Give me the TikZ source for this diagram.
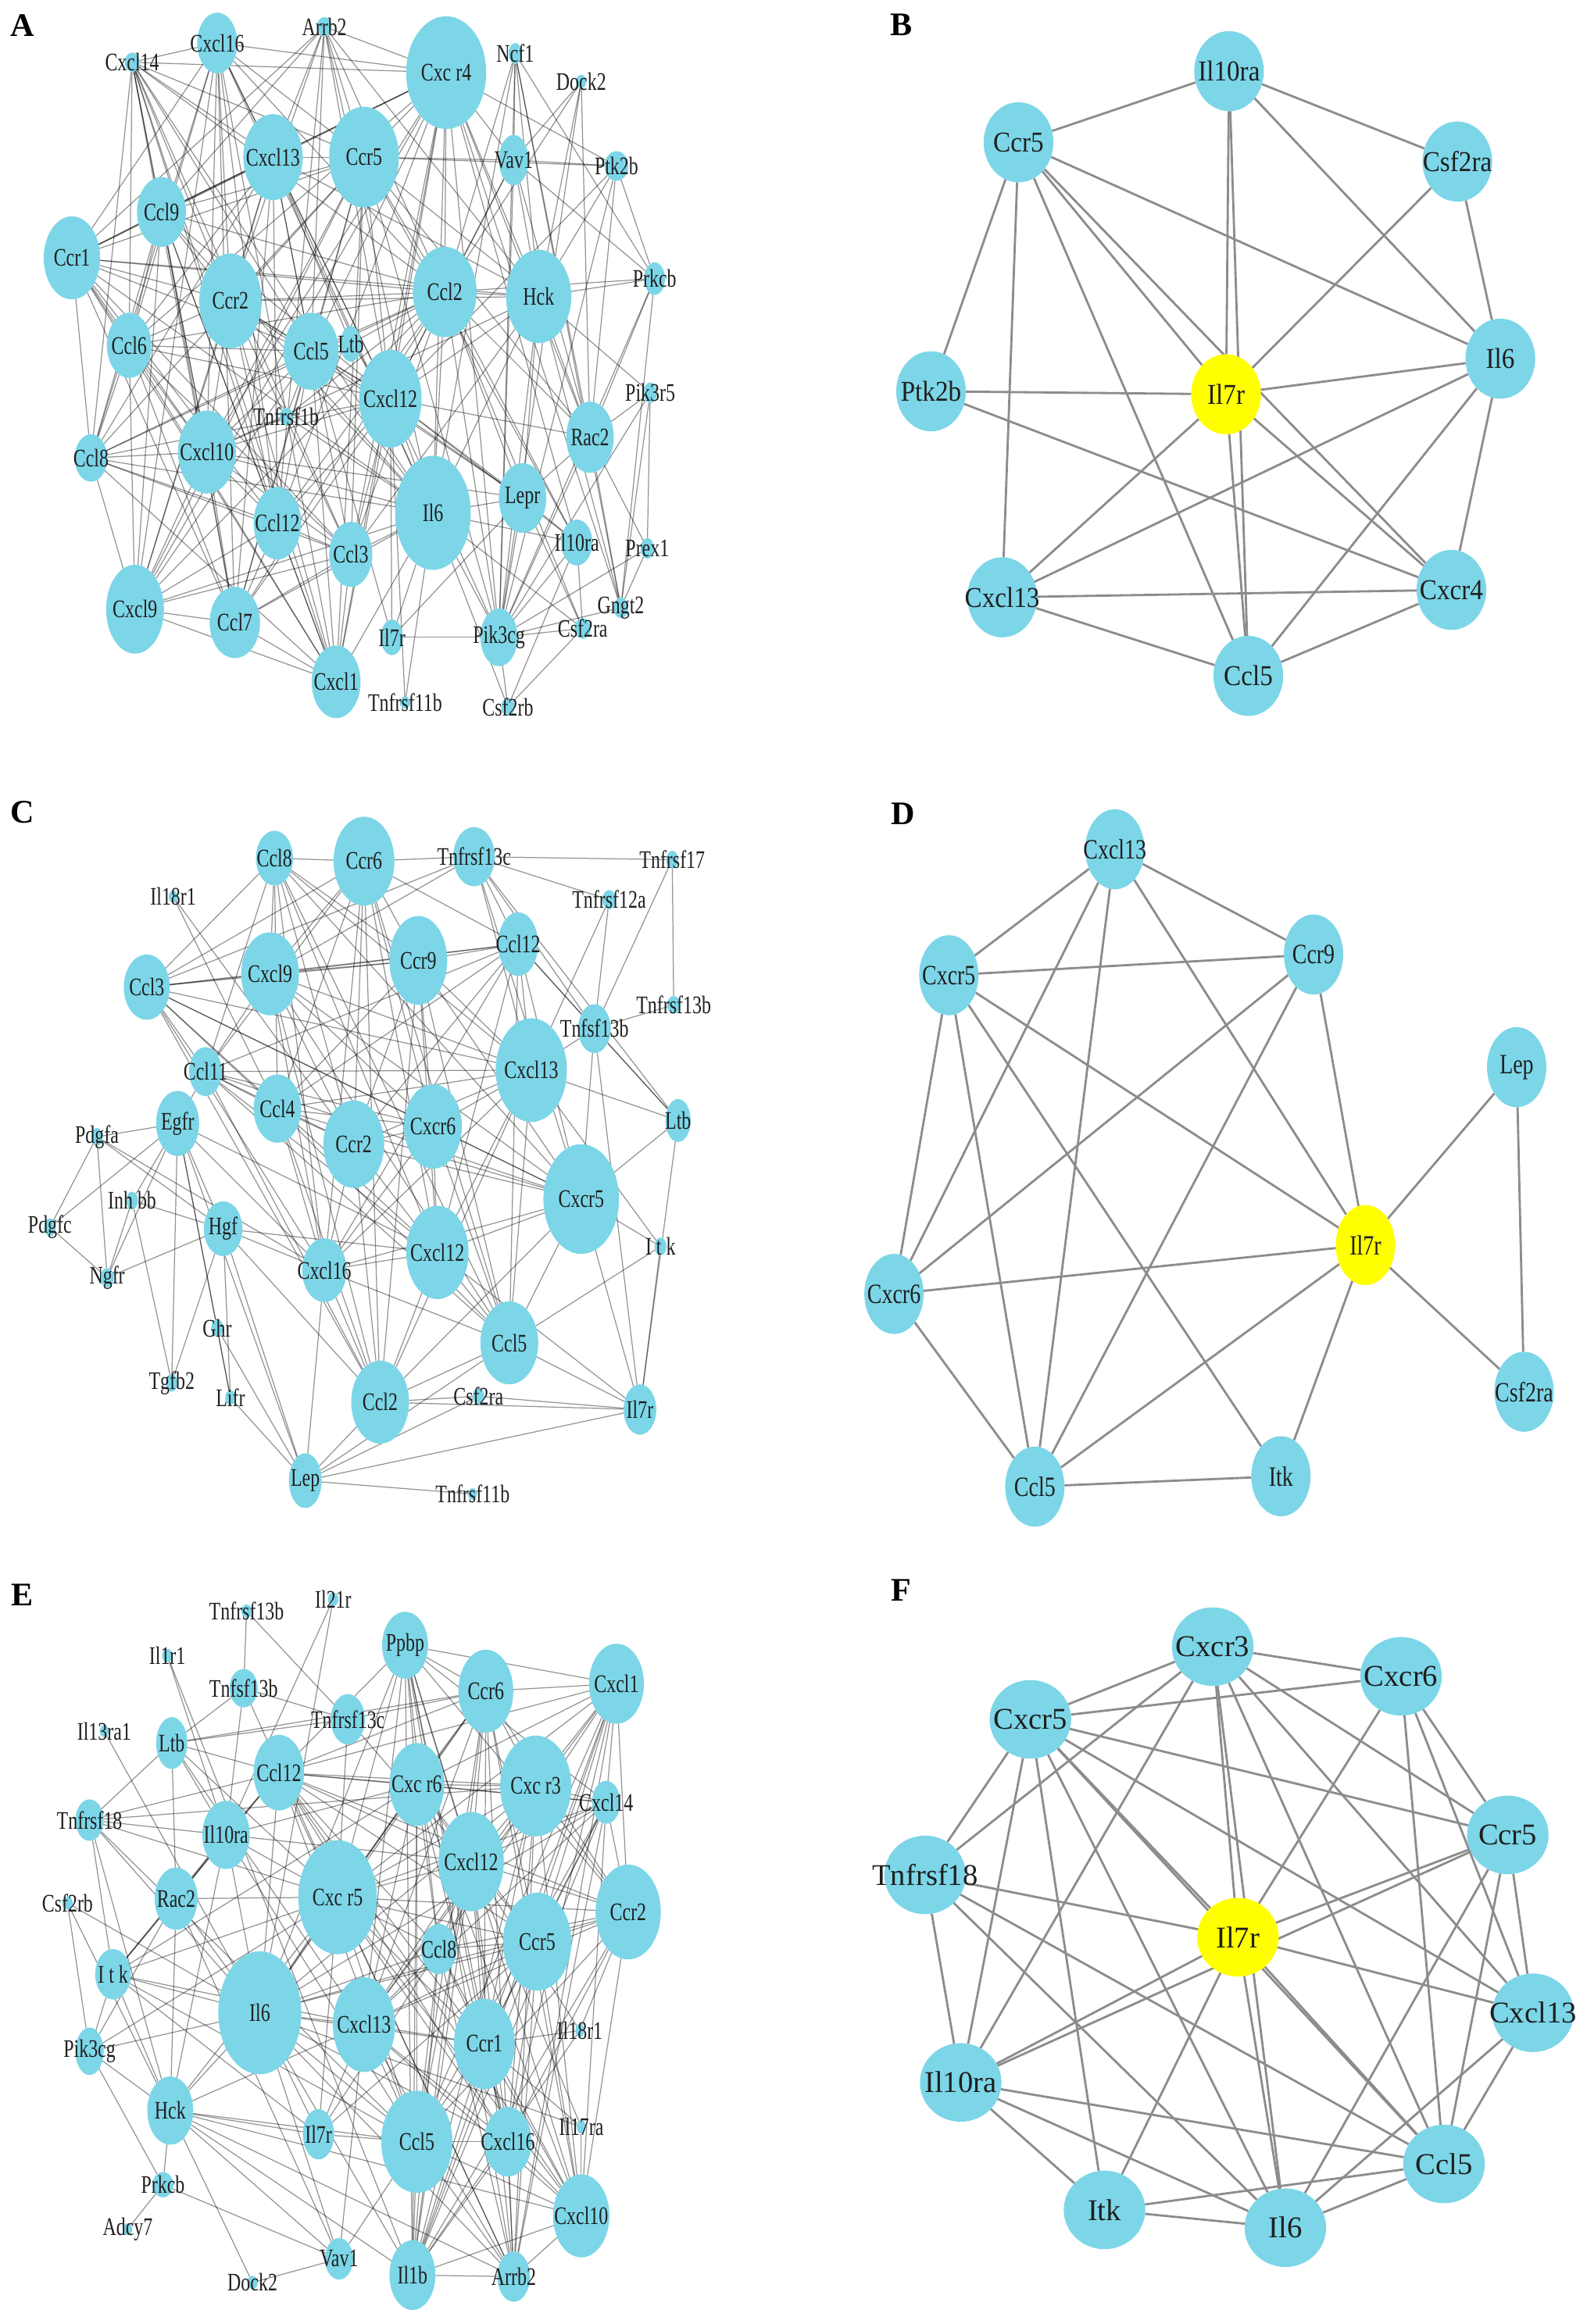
\documentclass[tikz,border=0pt]{standalone}
\usepackage{fontspec}
\setmainfont{Liberation Serif}
\newfontfamily\fnA[FakeStretch=0.74]{Liberation Serif}
\newfontfamily\fnB[FakeStretch=0.9]{Liberation Serif}
\newfontfamily\fnD[FakeStretch=0.78]{Liberation Serif}
\usetikzlibrary{shapes.geometric}
\pgfdeclarelayer{bg}
\pgfsetlayers{bg,main}
\definecolor{ncyan}{RGB}{124,214,232}
\definecolor{nyel}{RGB}{255,255,0}
\tikzset{
 gn/.style={ellipse, fill=ncyan, draw=none, inner sep=0pt, outer sep=0pt},
 hub/.style={fill=nyel},
 lb/.style={inner sep=0pt, text=black!88},
 eT/.style={draw=black, draw opacity=0.42, line width=0.35pt},
 eK/.style={draw=black!45, line width=0.8pt},
 plet/.style={font=\bfseries\fontsize{12}{12}\selectfont, inner sep=0pt},
}
\newcommand\gnode[7][]{%
  \node[gn,#1,minimum width=#5*0.01898cm,minimum height=#6*0.01898cm] (#2) at (#3,#4) {};
  \node[lb] (#2t) at (#2.center) {#7};}
\newcommand\clique[3]{%
  \foreach \pp [count=\ii] in #2 {%
    \foreach \qq [count=\jj] in #2 {%
      \pgfmathtruncatemacro\rr{mod(\ii*7+\jj*3,5)}%
      \ifnum\jj>\ii\relax \ifnum\rr>0\relax \draw[#3] (#1\pp) -- (#1\qq);\fi\fi
    }}}
\def\cliqA{Cxcl16,Cxcl14,Cxcr4,Cxcl13,Ccr5,Ccl9,Ccr1,Ccr2,Ccl2,Ccl6,Ccl5,Cxcl12,Ccl8,Cxcl10,Ccl12,Ccl3,Cxcl9,Ccl7,Cxcl1,Il6}
\def\cliqC{Ccl8,Ccr6,Ccr9,Cxcl9,Ccl3,Ccl12,Cxcl13,Ccl11,Ccl4,Ccr2,Cxcr6,Cxcr5,Cxcl16,Cxcl12,Ccl5,Ccl2}
\def\cliqE{Ppbp,Ccr6,Cxcl1,Ccl12,Cxcr6,Cxcr3,Cxcl14,Cxcl12,Cxcr5,Ccr2,Ccr5,Ccl8,Il6,Cxcl13,Ccr1,Ccl5,Cxcl16,Cxcl10,Il1b,Arrb2}
\begin{document}
\begin{tikzpicture}[x=0.01898cm,y=-0.01898cm]
\useasboundingbox (0,0) rectangle (1070,1568);
\begin{pgfonlayer}{bg}
\fill[white] (0,0) rectangle (1070,1568);
\end{pgfonlayer}

% panel letters
\node[plet] (labA) at (15,17) {A};
\node[plet] (labB) at (608,17) {B};
\node[plet] (labC) at (15,548) {C};
\node[plet] (labD) at (609,549) {D};
\node[plet] (labE) at (15,1076) {E};
\node[plet] (labF) at (608,1073) {F};

% ================= A =================
\begin{scope}[xscale=0.99, lb/.append style={font=\fnA\fontsize{9.2}{9.2}\selectfont}]
\gnode{aCxcl16}{148}{29}{27}{41}{Cxcl16}
\gnode{aArrb2}{221}{18}{10}{13}{Arrb2}
\gnode{aCxcr4}{304}{49}{54}{76}{Cxc r4}
\gnode{aNcf1}{351}{36}{9}{14}{Ncf1}
\gnode{aDock2}{396}{55}{7}{9}{Dock2}
\gnode{aCxcl14}{90}{42}{10}{13}{Cxcl14}
\gnode{aCxcl13}{186}{106}{40}{58}{Cxcl13}
\gnode{aCcr5}{248}{106}{47}{68}{Ccr5}
\gnode{aVav1}{350}{108}{20}{34}{Vav1}
\gnode{aPtk2b}{420}{112}{16}{20}{Ptk2b}
\gnode{aCcl9}{110}{143}{33}{47}{Ccl9}
\gnode{aCcr1}{49}{174}{38}{56}{Ccr1}
\gnode{aPrkcb}{446}{188}{14}{22}{Prkcb}
\gnode{aCcr2}{157}{203}{42}{64}{Ccr2}
\gnode{aCcl2}{303}{197}{43}{61}{Ccl2}
\gnode{aHck}{367}{200}{44}{63}{Hck}
\gnode{aCcl6}{88}{233}{30}{44}{Ccl6}
\gnode{aCcl5}{212}{237}{37}{52}{Ccl5}
\gnode{aLtb}{239}{232}{14}{24}{Ltb}
\gnode{aCxcl12}{266}{269}{42}{66}{Cxcl12}
\gnode{aTnfrsf1b}{195}{281}{9}{12}{Tnfrsf1b}
\gnode{aPik3r5}{443}{265}{9}{14}{Pik3r5}
\gnode{aCcl8}{62}{309}{22}{32}{Ccl8}
\gnode{aCxcl10}{141}{305}{39}{56}{Cxcl10}
\gnode{aRac2}{402}{295}{32}{48}{Rac2}
\gnode{aIl6}{295}{346}{51}{77}{Il6}
\gnode{aLepr}{356}{336}{32}{47}{Lepr}
\gnode{aCcl12}{189}{353}{32}{49}{Ccl12}
\gnode{aCcl3}{239}{374}{29}{44}{Ccl3}
\gnode{aIl10ra}{393}{366}{21}{31}{Il10ra}
\gnode{aPrex1}{441}{370}{9}{14}{Prex1}
\gnode{aCxcl9}{92}{411}{39}{60}{Cxcl9}
\gnode{aCcl7}{160}{420}{34}{48}{Ccl7}
\gnode{aGngt2}{423}{410}{10}{14}{Gngt2}
\gnode{aIl7r}{267}{430}{15}{24}{Il7r}
\gnode{aPik3cg}{340}{430}{25}{39}{Pik3cg}
\gnode{aCsf2ra}{397}{424}{11}{14}{Csf2ra}
\gnode{aCxcl1}{229}{460}{33}{49}{Cxcl1}
\gnode{aTnfrsf11b}{276}{474}{7}{8}{Tnfrsf11b}
\gnode{aCsf2rb}{346}{477}{9}{12}{Csf2rb}
\end{scope}
\begin{pgfonlayer}{bg}
\clique{a}{\cliqA}{eT}
\foreach \s/\t in {Arrb2/Cxcr4, Arrb2/Ccr5, Arrb2/Ccr2, Arrb2/Cxcl13, Arrb2/Ccl5, Arrb2/Cxcl12, Arrb2/Ccr1, Arrb2/Ccl2, Arrb2/Ccl9, Arrb2/Ccl12, Arrb2/Il6, Arrb2/Hck,
 Ncf1/Vav1, Ncf1/Hck, Ncf1/Rac2, Ncf1/Pik3cg, Ncf1/Prkcb, Ncf1/Ccl2, Ncf1/Il6, Ncf1/Gngt2,
 Dock2/Vav1, Dock2/Rac2, Dock2/Hck, Dock2/Pik3cg, Dock2/Ccl2,
 Ptk2b/Vav1, Ptk2b/Cxcr4, Ptk2b/Hck, Ptk2b/Pik3cg, Ptk2b/Ccr5, Ptk2b/Rac2, Ptk2b/Prkcb, Ptk2b/Cxcl12,
 Prkcb/Hck, Prkcb/Pik3cg, Prkcb/Rac2, Prkcb/Vav1, Prkcb/Gngt2, Prkcb/Ccl2,
 Pik3r5/Pik3cg, Pik3r5/Rac2, Pik3r5/Prex1, Pik3r5/Gngt2, Pik3r5/Hck,
 Prex1/Rac2, Prex1/Gngt2, Prex1/Pik3cg,
 Gngt2/Pik3cg, Gngt2/Rac2, Gngt2/Hck, Gngt2/Cxcr4,
 Csf2ra/Csf2rb, Csf2ra/Pik3cg, Csf2ra/Il6, Csf2ra/Lepr, Csf2ra/Il10ra, Csf2ra/Ccl2,
 Csf2rb/Pik3cg, Csf2rb/Il6, Csf2rb/Il10ra,
 Il7r/Pik3cg, Il7r/Il6, Il7r/Cxcl12, Il7r/Ccl5, Il7r/Lepr,
 Tnfrsf11b/Il6, Tnfrsf11b/Cxcl12,
 Tnfrsf1b/Il6, Tnfrsf1b/Ccl2, Tnfrsf1b/Cxcl10, Tnfrsf1b/Ccl5,
 Lepr/Il6, Lepr/Pik3cg, Lepr/Ccl2, Lepr/Cxcl12, Lepr/Il10ra, Lepr/Rac2, Lepr/Ccl5, Lepr/Hck, Lepr/Cxcl10, Lepr/Ccr2,
 Il10ra/Il6, Il10ra/Pik3cg, Il10ra/Ccl2, Il10ra/Ccr5, Il10ra/Cxcr4, Il10ra/Cxcl12,
 Ltb/Cxcl13, Ltb/Ccl2, Ltb/Cxcl12, Ltb/Ccl5,
 Hck/Vav1, Hck/Rac2, Hck/Pik3cg, Hck/Ccl2, Hck/Ccr5, Hck/Cxcr4, Hck/Ccr1, Hck/Cxcl12, Hck/Il6, Hck/Ccr2, Hck/Cxcl10, Hck/Cxcl13, Hck/Ccl3,
 Vav1/Rac2, Vav1/Pik3cg, Vav1/Ccr5, Vav1/Cxcr4, Vav1/Cxcl12, Vav1/Ccl2,
 Rac2/Pik3cg, Rac2/Cxcl12, Rac2/Ccl2, Rac2/Cxcr4, Rac2/Ccr5,
 Pik3cg/Il6, Pik3cg/Cxcl12, Pik3cg/Ccl2, Pik3cg/Cxcr4, Pik3cg/Ccr5}
 \draw[eT] (a\s) -- (a\t);
\end{pgfonlayer}

% ================= B =================
\begin{scope}[lb/.append style={font=\fnB\fontsize{10.5}{10.5}\selectfont}]
\gnode{bIl10ra}{829}{48}{47}{54}{Il10ra}
\gnode{bCcr5}{687}{96}{47}{54}{Ccr5}
\gnode{bCsf2ra}{983}{109}{47}{54}{Csf2ra}
\gnode{bPtk2b}{628}{264}{47}{54}{Ptk2b}
\gnode[hub]{bIl7r}{827}{266}{47}{54}{Il7r}
\gnode{bIl6}{1012}{242}{47}{54}{Il6}
\gnode{bCxcl13}{676}{403}{47}{54}{Cxcl13}
\gnode{bCxcr4}{979}{398}{47}{54}{Cxcr4}
\gnode{bCcl5}{842}{456}{47}{54}{Ccl5}
\end{scope}
\begin{pgfonlayer}{bg}
\foreach \s/\t in {Ccr5/Il10ra, Il10ra/Csf2ra, Il10ra/Il7r, Il10ra/Il6, Il10ra/Ccl5,
 Ccr5/Ptk2b, Ccr5/Cxcl13, Ccr5/Ccl5, Ccr5/Il7r, Ccr5/Cxcr4, Ccr5/Il6,
 Csf2ra/Il7r, Csf2ra/Il6, Ptk2b/Il7r, Ptk2b/Cxcr4,
 Il7r/Il6, Il7r/Cxcl13, Il7r/Ccl5, Il7r/Cxcr4,
 Il6/Cxcl13, Il6/Cxcr4, Il6/Ccl5, Cxcl13/Cxcr4, Cxcl13/Ccl5, Ccl5/Cxcr4}
 \draw[eK] (b\s) -- (b\t);
\end{pgfonlayer}

% ================= C =================
\begin{scope}[xscale=0.99, lb/.append style={font=\fnA\fontsize{9.2}{9.2}\selectfont}]
\gnode{cCcl8}{187}{579}{25}{37}{Ccl8}
\gnode{cCcr6}{248}{581}{41}{60}{Ccr6}
\gnode{cTnfrsf13c}{323}{578}{28}{40}{Tnfrsf13c}
\gnode{cTnfrsf17}{458}{580}{8}{12}{Tnfrsf17}
\gnode{cIl18r1}{118}{605}{6}{8}{Il18r1}
\gnode{cTnfrsf12a}{415}{607}{9}{13}{Tnfrsf12a}
\gnode{cCcl12}{353}{637}{27}{43}{Ccl12}
\gnode{cCcr9}{285}{648}{39}{60}{Ccr9}
\gnode{cCxcl9}{184}{657}{39}{56}{Cxcl9}
\gnode{cCcl3}{100}{666}{31}{44}{Ccl3}
\gnode{cTnfrsf13b}{459}{678}{9}{12}{Tnfrsf13b}
\gnode{cTnfsf13b}{405}{694}{22}{33}{Tnfsf13b}
\gnode{cCxcl13}{362}{722}{48}{70}{Cxcl13}
\gnode{cCcl11}{140}{723}{22}{33}{Ccl11}
\gnode{cCcl4}{189}{748}{32}{46}{Ccl4}
\gnode{cEgfr}{121}{758}{29}{44}{Egfr}
\gnode{cLtb}{462}{756}{17}{29}{Ltb}
\gnode{cCxcr6}{295}{760}{39}{57}{Cxcr6}
\gnode{cCcr2}{241}{772}{41}{59}{Ccr2}
\gnode{cPdgfa}{66}{767}{8}{12}{Pdgfa}
\gnode{cCxcr5}{396}{809}{51}{74}{Cxcr5}
\gnode{cInhbb}{90}{810}{8}{12}{Inh bb}
\gnode{cPdgfc}{34}{828}{8}{12}{Pdgfc}
\gnode{cHgf}{152}{829}{26}{37}{Hgf}
\gnode{cItk}{450}{841}{8}{12}{I t k}
\gnode{cCxcl16}{221}{857}{30}{43}{Cxcl16}
\gnode{cCxcl12}{298}{845}{42}{63}{Cxcl12}
\gnode{cNgfr}{73}{862}{9}{13}{Ngfr}
\gnode{cGhr}{148}{896}{8}{12}{Ghr}
\gnode{cCcl5}{347}{906}{39}{56}{Ccl5}
\gnode{cTgfb2}{117}{933}{8}{12}{Tgfb2}
\gnode{cLifr}{157}{943}{7}{10}{Lifr}
\gnode{cCcl2}{259}{946}{39}{56}{Ccl2}
\gnode{cCsf2ra}{326}{942}{8}{11}{Csf2ra}
\gnode{cIl7r}{436}{951}{22}{34}{Il7r}
\gnode{cLep}{208}{999}{22}{37}{Lep}
\gnode{cTnfrsf11b}{322}{1008}{6}{8}{Tnfrsf11b}
\end{scope}
\begin{pgfonlayer}{bg}
\clique{c}{\cliqC}{eT}
\foreach \s/\t in {Tnfrsf13c/Ccr6, Tnfrsf13c/Tnfrsf17, Tnfrsf13c/Tnfrsf12a, Tnfrsf13c/Tnfsf13b, Tnfrsf13c/Ccl12, Tnfrsf13c/Cxcl13, Tnfrsf13c/Ltb, Tnfrsf13c/Cxcr5, Tnfrsf13c/Cxcl9, Tnfrsf13c/Ccl3,
 Tnfrsf17/Tnfrsf13b, Tnfrsf17/Tnfsf13b, Tnfrsf12a/Tnfsf13b, Tnfrsf12a/Cxcl13, Tnfrsf13b/Tnfsf13b,
 Tnfsf13b/Ltb, Tnfsf13b/Cxcl13, Tnfsf13b/Il7r, Tnfsf13b/Ccl12, Tnfsf13b/Cxcr5,
 Ltb/Cxcl13, Ltb/Cxcr5, Ltb/Il7r, Ltb/Ccl12, Il18r1/Ccl4, Il18r1/Ccr2,
 Egfr/Pdgfa, Egfr/Pdgfc, Egfr/Inhbb, Egfr/Ngfr, Egfr/Hgf, Egfr/Tgfb2, Egfr/Ghr, Egfr/Lifr, Egfr/Lep, Egfr/Ccl11, Egfr/Cxcl12, Egfr/Cxcl16,
 Pdgfa/Pdgfc, Pdgfa/Ngfr, Pdgfa/Hgf, Pdgfa/Cxcl16, Pdgfc/Ngfr,
 Inhbb/Hgf, Inhbb/Ngfr, Inhbb/Tgfb2, Ngfr/Hgf,
 Hgf/Cxcl16, Hgf/Cxcl12, Hgf/Lep, Hgf/Tgfb2, Hgf/Ccl2, Hgf/Lifr,
 Ghr/Lifr, Ghr/Lep, Lep/Ccl2, Lep/Csf2ra, Lep/Il7r, Lep/Tnfrsf11b, Lep/Cxcl16, Lep/Lifr, Lep/Ccl5,
 Csf2ra/Il7r, Csf2ra/Ccl2, Il7r/Ccl5, Il7r/Cxcr5, Il7r/Itk, Il7r/Cxcl12, Il7r/Ccl2,
 Itk/Cxcr5, Itk/Ccl5, Itk/Cxcl13}
 \draw[eT] (c\s) -- (c\t);
\end{pgfonlayer}

% ================= D =================
\begin{scope}[lb/.append style={font=\fnD\fontsize{10.2}{10.2}\selectfont}]
\gnode{dCxcl13}{752}{573}{40}{54}{Cxcl13}
\gnode{dCxcr5}{640}{658}{40}{54}{Cxcr5}
\gnode{dCcr9}{886}{644}{40}{54}{Ccr9}
\gnode{dLep}{1023}{720}{40}{54}{Lep}
\gnode[hub]{dIl7r}{921}{840}{40}{54}{Il7r}
\gnode{dCxcr6}{603}{873}{40}{54}{Cxcr6}
\gnode{dCsf2ra}{1028}{939}{40}{54}{Csf2ra}
\gnode{dCcl5}{698}{1003}{40}{54}{Ccl5}
\gnode{dItk}{864}{996}{40}{54}{Itk}
\end{scope}
\begin{pgfonlayer}{bg}
\foreach \s/\t in {Cxcl13/Cxcr5, Cxcl13/Ccr9, Cxcl13/Cxcr6, Cxcl13/Ccl5, Cxcl13/Il7r,
 Cxcr5/Ccr9, Cxcr5/Il7r, Cxcr5/Itk, Cxcr5/Cxcr6, Cxcr5/Ccl5,
 Ccr9/Cxcr6, Ccr9/Ccl5, Ccr9/Il7r, Lep/Il7r, Lep/Csf2ra,
 Il7r/Cxcr6, Il7r/Ccl5, Il7r/Itk, Il7r/Csf2ra, Cxcr6/Ccl5, Ccl5/Itk}
 \draw[eK] (d\s) -- (d\t);
\end{pgfonlayer}

% ================= E =================
\begin{scope}[xscale=0.99, lb/.append style={font=\fnA\fontsize{9.2}{9.2}\selectfont}]
\gnode{eTnfrsf13b}{168}{1087}{7}{9}{Tnfrsf13b}
\gnode{eIl21r}{227}{1079}{7}{9}{Il21r}
\gnode{ePpbp}{276}{1110}{31}{45}{Ppbp}
\gnode{eIl1r1}{114}{1117}{7}{9}{Il1r1}
\gnode{eCcr6}{331}{1141}{37}{56}{Ccr6}
\gnode{eCxcl1}{420}{1136}{37}{54}{Cxcl1}
\gnode{eTnfsf13b}{166}{1139}{19}{26}{Tnfsf13b}
\gnode{eTnfrsf13c}{237}{1160}{23}{34}{Tnfrsf13c}
\gnode{eIl13ra1}{71}{1168}{6}{8}{Il13ra1}
\gnode{eLtb}{117}{1176}{21}{35}{Ltb}
\gnode{eCcl12}{190}{1196}{34}{51}{Ccl12}
\gnode{eCxcr6}{284}{1204}{37}{56}{Cxc r6}
\gnode{eCxcr3}{365}{1205}{48}{68}{Cxc r3}
\gnode{eCxcl14}{413}{1216}{19}{29}{Cxcl14}
\gnode{eTnfrsf18}{61}{1228}{19}{28}{Tnfrsf18}
\gnode{eIl10ra}{154}{1238}{32}{46}{Il10ra}
\gnode{eCxcl12}{321}{1256}{44}{67}{Cxcl12}
\gnode{eCsf2rb}{46}{1284}{7}{9}{Csf2rb}
\gnode{eRac2}{120}{1281}{29}{42}{Rac2}
\gnode{eCxcr5}{230}{1280}{53}{77}{Cxc r5}
\gnode{eCcr2}{428}{1290}{44}{64}{Ccr2}
\gnode{eCcr5}{366}{1310}{46}{66}{Ccr5}
\gnode{eCcl8}{299}{1315}{24}{34}{Ccl8}
\gnode{eItk}{77}{1332}{24}{34}{I t k}
\gnode{eIl6}{177}{1358}{56}{83}{Il6}
\gnode{eCxcl13}{248}{1366}{42}{64}{Cxcl13}
\gnode{eCcr1}{330}{1379}{41}{61}{Ccr1}
\gnode{eIl18r1}{395}{1370}{6}{9}{Il18r1}
\gnode{ePik3cg}{61}{1384}{19}{32}{Pik3cg}
\gnode{eHck}{116}{1424}{31}{46}{Hck}
\gnode{eIl7r}{217}{1440}{21}{34}{Il7r}
\gnode{eCcl5}{284}{1445}{48}{69}{Ccl5}
\gnode{eCxcl16}{346}{1445}{32}{47}{Cxcl16}
\gnode{eIl17ra}{396}{1435}{6}{9}{Il17ra}
\gnode{ePrkcb}{111}{1474}{14}{17}{Prkcb}
\gnode{eCxcl10}{396}{1495}{38}{56}{Cxcl10}
\gnode{eAdcy7}{87}{1504}{6}{8}{Adcy7}
\gnode{eVav1}{231}{1524}{19}{28}{Vav1}
\gnode{eDock2}{172}{1540}{7}{9}{Dock2}
\gnode{eIl1b}{281}{1535}{31}{47}{Il1b}
\gnode{eArrb2}{350}{1536}{22}{34}{Arrb2}
\end{scope}
\begin{pgfonlayer}{bg}
\clique{e}{\cliqE}{eT}
\foreach \s/\t in {Tnfrsf13b/Tnfsf13b, Tnfrsf13b/Tnfrsf13c, Il21r/Il10ra, Il21r/Il6, Il1r1/Il10ra, Il1r1/Il1b,
 Tnfsf13b/Ltb, Tnfsf13b/Tnfrsf13c, Tnfsf13b/Il10ra, Tnfsf13b/Cxcr5,
 Tnfrsf13c/Ltb, Tnfrsf13c/Ccr6, Tnfrsf13c/Cxcl12, Tnfrsf13c/Cxcr5, Il13ra1/Il6,
 Ltb/Ccr6, Ltb/Tnfrsf18, Ltb/Rac2, Ltb/Cxcr5, Ltb/Il10ra, Ltb/Ccl12, Ltb/Cxcl13,
 Tnfrsf18/Il10ra, Tnfrsf18/Ccl12, Tnfrsf18/Cxcr5, Tnfrsf18/Il6, Tnfrsf18/Itk, Tnfrsf18/Hck, Tnfrsf18/Ccl5, Tnfrsf18/Cxcr3,
 Il10ra/Il6, Il10ra/Itk, Il10ra/Hck, Il10ra/Cxcr5, Il10ra/Rac2, Il10ra/Cxcl12, Il10ra/Ccl12, Il10ra/Ccl5, Il10ra/Cxcr6,
 Csf2rb/Pik3cg, Csf2rb/Hck, Csf2rb/Il6,
 Rac2/Itk, Rac2/Pik3cg, Rac2/Hck, Rac2/Vav1, Rac2/Il6, Rac2/Cxcr5, Rac2/Ccl12,
 Itk/Pik3cg, Itk/Hck, Itk/Il6, Itk/Il7r, Itk/Ccl5, Itk/Cxcl13, Itk/Cxcr5, Itk/Ccl12, Itk/Cxcr6,
 Pik3cg/Hck, Pik3cg/Prkcb, Pik3cg/Il6, Pik3cg/Cxcr5,
 Hck/Prkcb, Hck/Il7r, Hck/Vav1, Hck/Il1b, Hck/Dock2, Hck/Il6, Hck/Cxcl10, Hck/Arrb2, Hck/Ccl5, Hck/Cxcl13, Hck/Cxcr5,
 Prkcb/Adcy7, Prkcb/Vav1, Vav1/Dock2, Vav1/Il6, Vav1/Cxcl13, Vav1/Ccl5,
 Il7r/Ccl5, Il7r/Il6, Il7r/Cxcl13, Il7r/Cxcr5, Il7r/Ccr5, Il7r/Ccl8,
 Il18r1/Ccr1, Il18r1/Il1b, Il18r1/Ccr2, Il18r1/Cxcl12,
 Il17ra/Cxcl10, Il17ra/Ccr1, Il17ra/Il6, Il17ra/Cxcl12}
 \draw[eT] (e\s) -- (e\t);
\end{pgfonlayer}

% ================= F =================
\begin{scope}[lb/.append style={font=\fontsize{11}{11}\selectfont}]
\gnode{fCxcr3}{818}{1111}{55}{53}{Cxcr3}
\gnode{fCxcr6}{945}{1131}{55}{53}{Cxcr6}
\gnode{fCxcr5}{695}{1160}{55}{53}{Cxcr5}
\gnode{fCcr5}{1017}{1238}{55}{53}{Ccr5}
\gnode{fTnfrsf18}{624}{1265}{55}{53}{Tnfrsf18}
\gnode[hub]{fIl7r}{835}{1307}{55}{53}{Il7r}
\gnode{fCxcl13}{1034}{1358}{55}{53}{Cxcl13}
\gnode{fIl10ra}{648}{1405}{55}{53}{Il10ra}
\gnode{fCcl5}{974}{1460}{55}{53}{Ccl5}
\gnode{fItk}{745}{1491}{55}{53}{Itk}
\gnode{fIl6}{867}{1503}{55}{53}{Il6}
\end{scope}
\begin{pgfonlayer}{bg}
\foreach \s/\t in {Cxcr3/Cxcr6, Cxcr3/Cxcr5, Cxcr3/Tnfrsf18, Cxcr3/Il10ra, Cxcr3/Il7r, Cxcr3/Il6, Cxcr3/Ccl5, Cxcr3/Cxcl13, Cxcr3/Ccr5,
 Cxcr6/Cxcr5, Cxcr6/Il7r, Cxcr6/Ccr5, Cxcr6/Cxcl13, Cxcr6/Ccl5,
 Cxcr5/Tnfrsf18, Cxcr5/Il10ra, Cxcr5/Itk, Cxcr5/Il7r, Cxcr5/Il6, Cxcr5/Ccl5, Cxcr5/Ccr5, Cxcr5/Cxcl13,
 Tnfrsf18/Il7r, Tnfrsf18/Il10ra, Tnfrsf18/Il6, Tnfrsf18/Ccl5,
 Il7r/Ccr5, Il7r/Il10ra, Il7r/Itk, Il7r/Il6, Il7r/Ccl5, Il7r/Cxcl13,
 Ccr5/Cxcl13, Ccr5/Ccl5, Ccr5/Il6, Ccr5/Il10ra,
 Cxcl13/Ccl5, Cxcl13/Il6, Il10ra/Ccl5, Il10ra/Il6, Il10ra/Itk,
 Itk/Ccl5, Itk/Il6, Il6/Ccl5}
 \draw[eK] (f\s) -- (f\t);
\end{pgfonlayer}
\end{tikzpicture}
\end{document}
